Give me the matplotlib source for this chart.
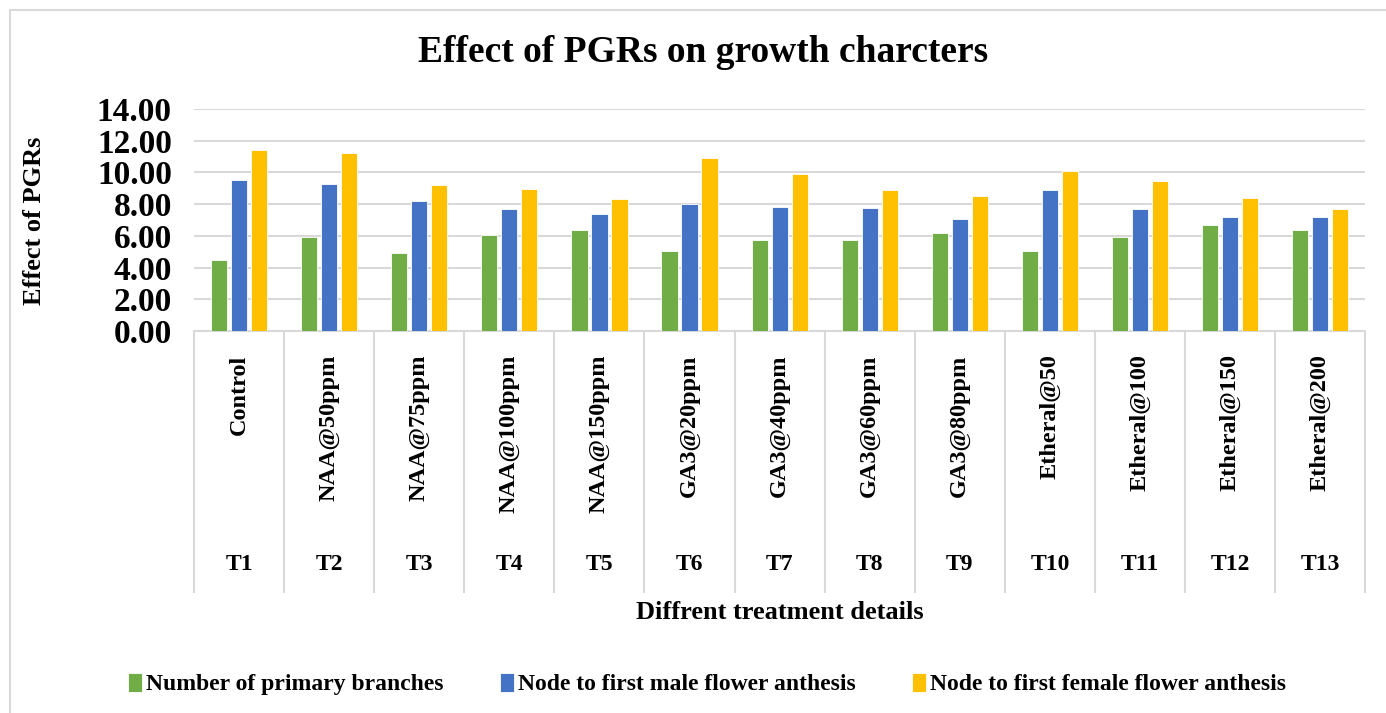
import numpy as np
import matplotlib
matplotlib.use("Agg")
import matplotlib.pyplot as plt
from matplotlib.patches import Rectangle

# данные
codes = ["T1", "T2", "T3", "T4", "T5", "T6", "T7", "T8", "T9", "T10", "T11", "T12", "T13"]
treatments = ["Control", "NAA@50ppm", "NAA@75ppm", "NAA@100ppm", "NAA@150ppm",
              "GA3@20ppm", "GA3@40ppm", "GA3@60ppm", "GA3@80ppm",
              "Etheral@50", "Etheral@100", "Etheral@150", "Etheral@200"]
primary_branches = [4.49, 5.92, 4.93, 6.07, 6.35, 5.02, 5.71, 5.73, 6.16, 5.02, 5.95, 6.66, 6.35]
male_node = [9.55, 9.26, 8.18, 7.70, 7.36, 8.03, 7.82, 7.78, 7.04, 8.88, 7.67, 7.21, 7.21]
female_node = [11.41, 11.22, 9.19, 8.96, 8.33, 10.92, 9.91, 8.88, 8.54, 10.10, 9.47, 8.41, 7.70]
series_names = ["Number of primary branches", "Node to first male flower anthesis",
                "Node to first female flower anthesis"]
yticks = [0, 2, 4, 6, 8, 10, 12, 14]

COLORS = ["#70AD47", "#4472C4", "#FFC000"]
GRID = "#D9D9D9"
plt.rcParams['font.family'] = ['Liberation Serif', 'DejaVu Serif']
plt.rcParams['font.weight'] = 'bold'

fig = plt.figure(figsize=(13.86, 7.13), dpi=100)
ax = fig.add_axes([0.140, 0.5358, 0.845, 0.3113])

# рамка вокруг всей диаграммы
fig.patches.append(Rectangle((10 / 1386, -0.1), 1.2, 1.1 - 10 / 713, transform=fig.transFigure,
                             fill=False, edgecolor=GRID, linewidth=1.5))

x = np.arange(len(codes))
offsets = [-0.222, 0, 0.222]
for vals, off, col, name in zip([primary_branches, male_node, female_node], offsets, COLORS, series_names):
    ax.bar(x + off, vals, width=0.18, color=col, edgecolor="white", linewidth=0.6, label=name, zorder=3)

ax.set_xlim(-0.5, len(codes) - 0.5)
ax.set_ylim(0, 14)
ax.set_yticks(yticks)
ax.set_yticklabels([f"{v:.2f}" for v in yticks], fontsize=24, fontweight='bold')
ax.yaxis.grid(True, color=GRID, linewidth=1.5, zorder=0)
ax.set_xticks([])
ax.tick_params(axis='y', length=0, pad=16)
for s in ["top", "right", "left"]:
    ax.spines[s].set_visible(False)
ax.spines["bottom"].set_color(GRID)
ax.spines["bottom"].set_linewidth(1.5)

# многоуровневая ось категорий
trans = ax.get_xaxis_transform()
bounds = np.arange(len(codes) + 1) - 0.5
ax.vlines(bounds, -1.18, 0, transform=trans, colors=GRID, linewidth=1.5, clip_on=False)
for i, (c, t) in enumerate(zip(codes, treatments)):
    ax.text(i, -0.105, t, transform=trans, rotation=90, ha='center', va='top',
            fontsize=17.5, fontweight='bold')
    ax.text(i, -1.054, c, transform=trans, ha='center', va='center',
            fontsize=17, fontweight='bold')

ax.text(0.5, -1.27, "Diffrent treatment details", transform=ax.transAxes, ha='center', va='center',
        fontsize=19, fontweight='bold')
fig.text(0.025, 0.6905, "Effect of PGRs", rotation=90, ha='center', va='center',
         fontsize=19, fontweight='bold')
fig.text(0.507, 0.927, "Effect of PGRs on growth charcters", ha='center', va='center',
         fontsize=27, fontweight='bold')

fig.legend(loc='center', bbox_to_anchor=(0.51, 0.0407), ncol=3, frameon=False,
           prop={'size': 17, 'weight': 'bold'}, handlelength=0.6, handleheight=0.9,
           handletextpad=0.15, columnspacing=2.4)

fig.savefig("out.png", dpi=100)
